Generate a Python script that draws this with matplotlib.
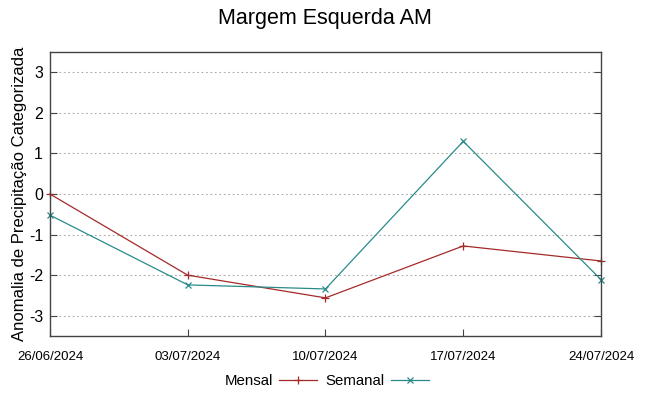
import matplotlib
matplotlib.use('Agg')
import matplotlib.pyplot as plt

datas = ['26/06/2024', '03/07/2024', '10/07/2024', '17/07/2024', '24/07/2024']
mensal = [0.0, -2.0, -2.56, -1.28, -1.65]
semanal = [-0.52, -2.24, -2.34, 1.30, -2.11]
y_ticks = [-3, -2, -1, 0, 1, 2, 3]

plt.rcParams['font.family'] = ['Liberation Sans', 'DejaVu Sans']
plt.rcParams['axes.unicode_minus'] = False

fig = plt.figure(figsize=(6.49, 3.96), dpi=100)
ax = fig.add_axes([0.077, 0.1515, 0.849, 0.717])

x = list(range(len(datas)))
ax.plot(x, mensal, color='#a52a2a', lw=0.9, marker='+', ms=6, mew=0.9, label='Mensal', clip_on=False)
ax.plot(x, semanal, color='#2a8a8a', lw=0.9, marker='x', ms=5, mew=0.9, label='Semanal', clip_on=False)

ax.set_xlim(0, len(datas) - 1)
ax.set_ylim(-3.5, 3.5)
ax.set_xticks(x)
ax.set_xticklabels(datas, fontsize=9.5)
ax.set_yticks(y_ticks)
ax.tick_params(axis='y', labelsize=11.5, direction='in', right=True, length=5, color='#444444', pad=5)
ax.tick_params(axis='x', direction='in', length=5, pad=11, color='#444444')
ax.grid(axis='y', linestyle=(0, (1.5, 2.5)), color='#aaaaaa', lw=0.8)
for s in ax.spines.values():
    s.set_color('#444444')
    s.set_linewidth(1.0)

ax.set_ylabel('Anomalia de Precipitação Categorizada', fontsize=12, labelpad=1)
fig.suptitle('Margem Esquerda AM', fontsize=15.5, y=0.98)

fig.legend(loc='lower center', ncol=2, frameon=False, fontsize=10.8,
           bbox_to_anchor=(0.503, -0.015), handlelength=2.5, columnspacing=0.55,
           handletextpad=0.45, markerfirst=False)

fig.savefig('out.png', dpi=100)
